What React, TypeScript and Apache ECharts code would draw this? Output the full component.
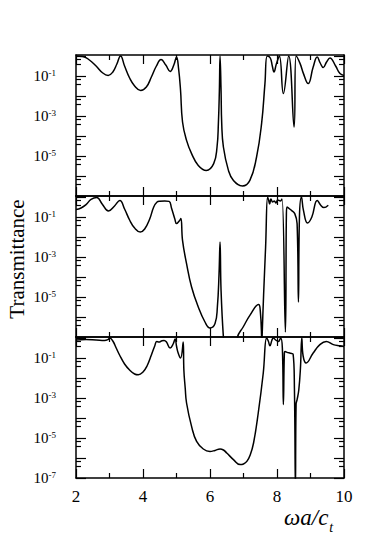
import React, { useEffect, useRef } from 'react';
import * as echarts from 'echarts';

// Frequency ωa/c_t (x) and log10(Transmittance), one pair of arrays per panel
const x1 = [2.0, 2.2, 2.4, 2.6, 2.8, 2.96, 3.1, 3.22, 3.33, 3.45, 3.6, 3.75, 3.93, 4.1, 4.25, 4.4, 4.54, 4.68, 4.81, 4.92, 5.0, 5.06, 5.12, 5.18, 5.3, 5.45, 5.65, 5.89, 6.11, 6.21, 6.25, 6.28, 6.3, 6.33, 6.35, 6.4, 6.55, 6.7, 6.97, 7.19, 7.39, 7.54, 7.64, 7.71, 7.8, 7.86, 7.91, 7.98, 8.07, 8.19, 8.35, 8.51, 8.57, 8.69, 8.79, 8.93, 9.08, 9.2, 9.29, 9.38, 9.48, 9.58, 9.75, 9.88, 10.0];
const logT1 = [0.0, -0.02, -0.2, -0.5, -0.85, -0.97, -0.8, -0.4, 0.0, -0.5, -1.1, -1.5, -1.72, -1.55, -1.05, -0.5, -0.18, -0.45, -0.77, -0.45, -0.05, -0.6, -1.7, -3.3, -4.22, -4.88, -5.47, -5.72, -5.38, -4.55, -3.38, -1.72, 0.0, -1.72, -3.38, -4.55, -5.72, -6.22, -6.5, -6.22, -5.05, -3.38, -1.38, 0.0, -0.1, -0.5, -0.8, -0.4, 0.0, -1.88, 0.0, -3.55, 0.0, -0.38, -0.88, -1.38, -0.55, -0.05, -0.35, -0.58, -0.3, -0.1, -0.5, -0.88, -0.97];

const x2 = [2.0, 2.15, 2.3, 2.45, 2.62, 2.78, 2.97, 3.15, 3.31, 3.45, 3.6, 3.75, 3.92, 4.05, 4.2, 4.32, 4.42, 4.5, 4.65, 4.78, 4.85, 4.95, 5.0, 5.08, 5.13, 5.18, 5.3, 5.45, 5.65, 5.85, 6.0, 6.15, 6.22, 6.27, 6.3, 6.33, 6.4, 6.45, 6.78, 6.82, 6.99, 7.19, 7.45, 7.5, 7.54, 7.545, 7.555, 7.6, 7.66, 7.72, 7.75, 7.78, 7.82, 7.87, 7.92, 7.97, 8.02, 8.1, 8.15, 8.25, 8.28, 8.3, 8.43, 8.53, 8.6, 8.64, 8.67, 8.73, 8.79, 8.91, 9.04, 9.2, 9.3, 9.4, 9.53];
const logT2 = [-0.63, -0.55, -0.38, -0.12, -0.03, -0.35, -0.7, -0.45, -0.17, -0.6, -1.15, -1.55, -1.75, -1.6, -1.1, -0.5, -0.25, -0.21, -0.2, -0.22, -0.55, -1.1, -1.33, -1.2, -1.08, -2.17, -3.33, -4.5, -5.5, -6.25, -6.55, -6.33, -5.5, -3.83, -2.25, -4.67, -7.0, -7.6, -7.6, -7.0, -6.5, -5.92, -5.38, -5.67, -7.0, -7.6, -7.0, -4.9, -2.5, 0.0, -0.15, -0.35, -0.1, -0.25, -0.2, -0.3, -0.15, -0.2, -0.1, -6.75, -0.9, -0.5, -0.67, -0.83, -1.33, -5.25, -1.0, 0.0, -0.67, -1.3, -1.0, -0.17, -0.4, -0.53, -0.41];

const x3 = [2.0, 2.3, 2.6, 2.85, 2.95, 3.01, 3.1, 3.2, 3.3, 3.45, 3.6, 3.75, 3.86, 4.0, 4.12, 4.25, 4.35, 4.41, 4.48, 4.55, 4.63, 4.7, 4.81, 4.9, 4.96, 5.0, 5.05, 5.12, 5.2, 5.22, 5.26, 5.3, 5.45, 5.6, 5.8, 6.0, 6.15, 6.3, 6.4, 6.5, 6.7, 6.9, 7.0, 7.1, 7.2, 7.3, 7.44, 7.59, 7.69, 7.74, 7.79, 7.85, 7.89, 7.96, 8.04, 8.11, 8.16, 8.19, 8.22, 8.24, 8.3, 8.4, 8.48, 8.52, 8.55, 8.57, 8.6, 8.65, 8.7, 8.74, 8.78, 8.87, 9.08, 9.28, 9.47, 9.68, 9.88, 10.0];
const logT3 = [-0.1, -0.08, -0.1, -0.12, -0.08, 0.0, -0.15, -0.5, -0.85, -1.3, -1.6, -1.8, -1.84, -1.7, -1.4, -0.85, -0.4, -0.18, -0.2, -0.15, -0.12, -0.2, -0.5, -0.3, -0.05, -0.4, -0.75, -1.0, -0.2, -1.6, -2.5, -3.25, -4.42, -5.17, -5.55, -5.67, -5.62, -5.55, -5.6, -5.75, -6.08, -6.33, -6.3, -6.17, -5.85, -5.25, -3.75, -1.75, 0.0, -0.15, -0.39, -0.1, 0.0, -0.1, -0.17, 0.0, -0.5, -3.33, -0.75, -0.68, -0.72, -0.76, -0.8, -2.5, -7.5, -3.3, -3.08, -2.6, -1.5, 0.0, -0.9, -1.25, -0.75, -0.33, -0.17, -0.33, -0.39, -0.42];

// Axis ticks
const xMin = 2;
const xMax = 10;
const decades = [-7, -6, -5, -4, -3, -2, -1, 0];
const labelDecadesUpper = [-5, -3, -1];
const labelDecadesLower = [-7, -5, -3, -1];
const minorMantissas = [4, 7];

const panels = [
  { x: x1, y: logT1 },
  { x: x2, y: logT2 },
  { x: x3, y: logT3 },
];

const FONT = '"Liberation Serif", "Times New Roman", Times, serif';
const BLACK = '#000';

export default function App() {
  const ref = useRef<HTMLDivElement>(null);

  useEffect(() => {
    if (!ref.current) return;
    const chart = echarts.init(ref.current, undefined, { renderer: 'svg' });

    const yMin = -7;
    const yMax = 0.05;
    const minorVals: number[] = [];
    decades.forEach((d) => {
      if (d >= 0) return;
      minorMantissas.forEach((m) => minorVals.push(d + Math.log10(m)));
    });

    const grids = panels.map((_, i) => ({ left: 76, width: 268, top: 55 + i * 141, height: 141 }));

    const xAxes: any[] = [];
    const yAxes: any[] = [];
    const series: any[] = [];

    panels.forEach((p, i) => {
      ['bottom', 'top'].forEach((pos) => {
        xAxes.push({
          type: 'value',
          gridIndex: i,
          position: pos,
          min: xMin,
          max: xMax,
          interval: 2,
          axisLine: { show: true, onZero: false, lineStyle: { color: BLACK, width: 1.5 } },
          axisTick: { show: true, inside: true, length: 9, lineStyle: { color: BLACK, width: 1.2 } },
          minorTick: { show: true, splitNumber: 2, length: 5, lineStyle: { color: BLACK, width: 1.2 } },
          splitLine: { show: false },
          minorSplitLine: { show: false },
          axisLabel: {
            show: i === 2 && pos === 'bottom',
            margin: 10,
            color: BLACK,
            fontFamily: FONT,
            fontSize: 17,
          },
        });
      });
      const labelVals = i === 2 ? labelDecadesLower : labelDecadesUpper;
      ['left', 'right'].forEach((pos) => {
        yAxes.push({
          type: 'value',
          gridIndex: i,
          position: pos,
          min: yMin,
          max: yMax,
          interval: 1,
          axisLine: { show: true, onZero: false, lineStyle: { color: BLACK, width: 1.5 } },
          axisTick: { show: true, inside: true, length: 10, customValues: decades, lineStyle: { color: BLACK, width: 1.2 } },
          splitLine: { show: false },
          axisLabel: {
            show: pos === 'left',
            customValues: labelVals,
            margin: 20,
            formatter: (v: number) => `{b|10}{s|${Math.round(v)}}`,
            rich: {
              b: { fontFamily: FONT, fontSize: 15, lineHeight: 16, color: BLACK },
              s: { fontFamily: FONT, fontSize: 9, lineHeight: 10, color: BLACK, verticalAlign: 'top' },
            },
          },
        });
      });
      ['left', 'right'].forEach((pos) => {
        yAxes.push({
          type: 'value',
          gridIndex: i,
          position: pos,
          min: yMin,
          max: yMax,
          interval: 1,
          axisLine: { show: false },
          axisTick: { show: true, inside: true, length: 5, customValues: minorVals, lineStyle: { color: BLACK, width: 1.2 } },
          splitLine: { show: false },
          axisLabel: { show: false },
        });
      });
      series.push({
        type: 'line',
        xAxisIndex: i * 2,
        yAxisIndex: i * 4,
        data: p.x.map((xv, k) => [xv, p.y[k]]),
        showSymbol: false,
        symbol: 'none',
        smooth: 0.45,
        clip: true,
        lineStyle: { color: BLACK, width: 1.5 },
      });
    });

    chart.setOption({
      animation: false,
      backgroundColor: '#fff',
      grid: grids,
      xAxis: xAxes,
      yAxis: yAxes,
      series,
      graphic: [
        {
          type: 'text',
          x: 17,
          y: 259,
          rotation: Math.PI / 2,
          style: {
            text: 'Transmittance',
            fontFamily: FONT,
            fontSize: 21,
            fill: BLACK,
            align: 'center',
            verticalAlign: 'middle',
          },
        },
        {
          type: 'text',
          x: 284,
          y: 506,
          style: {
            text: '{m|ωa/c}{t|t}',
            fill: BLACK,
            rich: {
              m: { fontFamily: FONT, fontStyle: 'italic', fontSize: 23, lineHeight: 22, fill: BLACK, verticalAlign: 'top' },
              t: { fontFamily: FONT, fontStyle: 'italic', fontSize: 14, lineHeight: 14, fill: BLACK, verticalAlign: 'bottom', padding: [0, 0, -6, 1] },
            },
          },
        },
      ],
    });

    return () => chart.dispose();
  }, []);

  return <div ref={ref} style={{ position: 'absolute', left: 0, top: 0, width: 382, height: 543 }} />;
}
